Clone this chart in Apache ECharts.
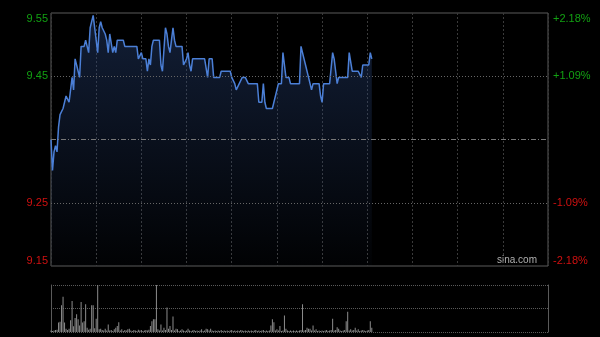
<!DOCTYPE html>
<html><head><meta charset="utf-8">
<script src="https://cdn.jsdelivr.net/npm/echarts@6/dist/echarts.min.js"></script>
<style>html,body{margin:0;padding:0;background:#000;}#c{width:600px;height:337px;}</style>
</head><body><div id="c"></div>
<script>
// previous close and price per grid band (1.09%)
const prevClose = 9.35;
const bandStep = 0.1019;
const sessionMinutes = 330;

const leftTickLabels = ['9.15', '9.25', '', '9.45', '9.55'];
const rightTickLabels = ['-2.18%', '-1.09%', '', '+1.09%', '+2.18%'];

const prices = [
  9.35, 9.30, 9.33, 9.34, 9.33, 9.37, 9.39, 9.39, 9.40, 9.41,
  9.42, 9.42, 9.41, 9.43, 9.45, 9.43, 9.48, 9.47, 9.46, 9.45,
  9.50, 9.50, 9.50, 9.51, 9.50, 9.49, 9.53, 9.53, 9.55, 9.53,
  9.51, 9.49, 9.53, 9.54, 9.53, 9.53, 9.52, 9.51, 9.49, 9.52,
  9.52, 9.49, 9.50, 9.49, 9.51, 9.51, 9.51, 9.51, 9.51, 9.50,
  9.50, 9.50, 9.50, 9.50, 9.50, 9.50, 9.50, 9.50, 9.48, 9.48,
  9.49, 9.48, 9.48, 9.48, 9.46, 9.48, 9.47, 9.50, 9.51, 9.51,
  9.51, 9.51, 9.51, 9.47, 9.46, 9.46, 9.53, 9.52, 9.50, 9.49,
  9.51, 9.53, 9.51, 9.50, 9.50, 9.50, 9.50, 9.50, 9.47, 9.47,
  9.48, 9.49, 9.47, 9.46, 9.48, 9.48, 9.48, 9.48, 9.48, 9.48,
  9.48, 9.48, 9.48, 9.48, 9.45, 9.48, 9.48, 9.48, 9.45, 9.45,
  9.45, 9.45, 9.45, 9.46, 9.46, 9.46, 9.46, 9.46, 9.46, 9.46,
  9.45, 9.45, 9.44, 9.43, 9.43, 9.44, 9.44, 9.45, 9.45, 9.45,
  9.45, 9.44, 9.44, 9.44, 9.44, 9.44, 9.44, 9.44, 9.41, 9.41,
  9.41, 9.44, 9.41, 9.40, 9.40, 9.40, 9.40, 9.40, 9.41, 9.41,
  9.43, 9.44, 9.44, 9.44, 9.49, 9.49, 9.45, 9.45, 9.45, 9.44,
  9.44, 9.44, 9.44, 9.44, 9.44, 9.44, 9.50, 9.49, 9.48, 9.47,
  9.47, 9.45, 9.44, 9.43, 9.44, 9.44, 9.44, 9.44, 9.44, 9.42,
  9.41, 9.44, 9.44, 9.44, 9.44, 9.44, 9.44, 9.49, 9.48, 9.46,
  9.44, 9.45, 9.45, 9.45, 9.45, 9.45, 9.45, 9.45, 9.49, 9.49,
  9.46, 9.46, 9.46, 9.46, 9.46, 9.46, 9.45, 9.47, 9.47, 9.47,
  9.47, 9.47, 9.49, 9.48
];

// relative volume (100 = top of the volume pane)
const volumes = [
  3, 2, 3, 4, 5, 20, 22, 57, 75, 20,
  7, 4, 7, 25, 66, 12, 30, 38, 27, 14,
  64, 20, 23, 59, 9, 5, 7, 57, 57, 8,
  28, 100, 6, 7, 4, 3, 7, 3, 16, 3,
  4, 2, 6, 9, 13, 21, 3, 6, 2, 4,
  3, 6, 7, 3, 2, 4, 3, 2, 5, 3,
  4, 2, 3, 4, 3, 5, 13, 23, 27, 27,
  100, 6, 3, 16, 3, 9, 4, 52, 7, 13,
  4, 33, 3, 7, 6, 2, 3, 6, 3, 2,
  3, 7, 3, 2, 3, 4, 2, 3, 2, 3,
  6, 2, 3, 7, 6, 3, 7, 3, 2, 3,
  2, 3, 2, 4, 2, 3, 2, 3, 2, 3,
  4, 2, 3, 2, 3, 2, 4, 3, 2, 3,
  2, 3, 2, 3, 2, 3, 4, 2, 3, 2,
  3, 4, 2, 3, 2, 3, 14, 27, 21, 3,
  6, 3, 13, 2, 3, 35, 7, 3, 2, 3,
  2, 3, 2, 3, 2, 3, 4, 59, 3, 4,
  9, 7, 7, 3, 14, 3, 6, 2, 3, 2,
  3, 2, 3, 4, 2, 3, 4, 28, 3, 4,
  10, 7, 3, 2, 3, 4, 23, 43, 3, 6,
  3, 4, 9, 3, 6, 2, 3, 4, 3, 2,
  3, 4, 23, 9
];

const GREEN = '#12a012';
const RED = '#d01010';

const chart = echarts.init(document.getElementById('c'), null, {renderer: 'canvas'});
const idx = v => Math.round(Number(v)) + 2;

chart.setOption({
  backgroundColor: '#000',
  animation: false,
  grid: [
    {left: 51, right: 52, top: 13, height: 253, show: true, borderColor: '#5a5a5a', borderWidth: 1, backgroundColor: 'transparent'},
    {left: 51, right: 52, top: 285, height: 47}
  ],
  xAxis: [
    {type: 'value', gridIndex: 0, min: 0, max: sessionMinutes, interval: 30,
     axisLine: {show: false}, axisTick: {show: false}, axisLabel: {show: false},
     splitLine: {show: true, lineStyle: {color: '#3a3a3a', type: [2, 2], width: 1}}},
    {type: 'value', gridIndex: 1, min: 0, max: sessionMinutes, interval: 30,
     axisLine: {show: false}, axisTick: {show: false}, axisLabel: {show: false}, splitLine: {show: false}}
  ],
  yAxis: [
    {type: 'value', gridIndex: 0, position: 'left', min: -2, max: 2, interval: 1,
     axisLine: {show: false}, axisTick: {show: false}, splitLine: {show: false},
     axisLabel: {margin: 3, fontSize: 11, fontFamily: 'Liberation Sans, Arial, sans-serif',
       formatter: v => leftTickLabels[idx(v)],
       color: v => Number(v) > 0 ? GREEN : RED,
       verticalAlignMinLabel: 'bottom', verticalAlignMaxLabel: 'top'}},
    {type: 'value', gridIndex: 0, position: 'right', min: -2, max: 2, interval: 1,
     axisLine: {show: false}, axisTick: {show: false}, splitLine: {show: false},
     axisLabel: {margin: 5, fontSize: 11, fontFamily: 'Liberation Sans, Arial, sans-serif',
       formatter: v => rightTickLabels[idx(v)],
       color: v => Number(v) > 0 ? GREEN : RED,
       verticalAlignMinLabel: 'bottom', verticalAlignMaxLabel: 'top'}},
    {type: 'value', gridIndex: 1, position: 'left', min: 0, max: 100, interval: 50,
     axisLine: {show: true, lineStyle: {color: '#5a5a5a'}}, axisTick: {show: false}, axisLabel: {show: false},
     splitLine: {show: true, lineStyle: {color: '#5a5a5a', type: [1, 1]}}},
    {type: 'value', gridIndex: 1, position: 'right', min: 0, max: 100, interval: 50,
     axisLine: {show: true, lineStyle: {color: '#5a5a5a'}}, axisTick: {show: false}, axisLabel: {show: false},
     splitLine: {show: false}}
  ],
  series: [
    {
      type: 'line', xAxisIndex: 0, yAxisIndex: 0,
      data: prices.map((p, i) => [i, (p - prevClose) / bandStep]),
      showSymbol: false, symbol: 'none',
      lineStyle: {color: '#4b7fd6', width: 1.5},
      areaStyle: {origin: 'start', color: new echarts.graphic.LinearGradient(0, 0, 0, 1, [
        {offset: 0, color: 'rgba(42,70,125,0.62)'},
        {offset: 1, color: 'rgba(42,70,125,0.04)'}
      ])},
      markLine: {
        silent: true, symbol: 'none', label: {show: false}, animation: false,
        data: [
          {yAxis: 1, lineStyle: {color: '#666', type: [1, 2], width: 1}},
          {yAxis: -1, lineStyle: {color: '#666', type: [1, 2], width: 1}},
          {yAxis: 0, lineStyle: {color: '#777', type: [5, 2, 1, 2], width: 1}}
        ]
      }
    },
    {
      type: 'bar', xAxisIndex: 1, yAxisIndex: 2,
      data: volumes.map((v, i) => [i, v]),
      barWidth: 1,
      itemStyle: {color: '#8c8c8c'}
    }
  ],
  graphic: [
    {type: 'text', right: 63, top: 255,
     style: {text: 'sina.com', fill: '#b0b0b0', font: '10px "Liberation Sans", Arial, sans-serif'}}
  ]
});
</script>
</body></html>
